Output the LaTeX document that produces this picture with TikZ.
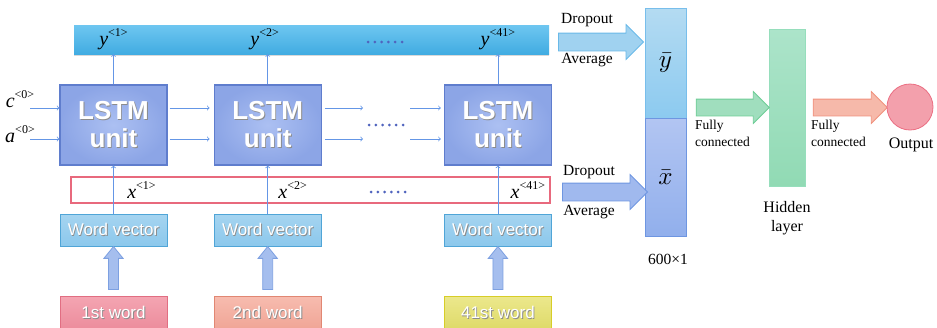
\documentclass[tikz,border=0pt]{standalone}
\usepackage{xcolor}
\usepackage{graphicx}
\usepackage{fontspec}
\setmainfont{Liberation Serif}
\setsansfont{Liberation Sans}
\usepackage{tikz}
\usetikzlibrary{shapes.arrows, arrows, positioning, calc, shadows}
\definecolor{lstmedge}{RGB}{95, 125, 205}
\definecolor{lstminner}{RGB}{172, 192, 242}
\definecolor{lstmouter}{RGB}{140, 165, 230}
\definecolor{ybartop}{RGB}{110, 198, 240}
\definecolor{ybarbot}{RGB}{65, 172, 226}
\definecolor{wvedge}{RGB}{80, 165, 215}
\definecolor{wvtop}{RGB}{165, 212, 240}
\definecolor{wvbot}{RGB}{140, 200, 236}
\definecolor{thinblue}{RGB}{100, 150, 230}
\definecolor{xbarred}{RGB}{232, 105, 125}
\definecolor{dotblue}{RGB}{80, 100, 190}
\definecolor{oneedge}{RGB}{225, 110, 130}
\definecolor{onetop}{RGB}{244, 165, 178}
\definecolor{onebot}{RGB}{236, 140, 156}
\definecolor{twoedge}{RGB}{225, 135, 115}
\definecolor{twotop}{RGB}{247, 188, 175}
\definecolor{twobot}{RGB}{240, 165, 150}
\definecolor{lastedge}{RGB}{215, 205, 40}
\definecolor{lasttop}{RGB}{236, 232, 140}
\definecolor{lastbot}{RGB}{222, 218, 105}
\definecolor{vupedge}{RGB}{125, 160, 225}
\definecolor{vupfill}{RGB}{165, 190, 238}
\definecolor{dropyedge}{RGB}{105, 185, 232}
\definecolor{dropyfill}{RGB}{160, 210, 240}
\definecolor{dropxedge}{RGB}{110, 150, 225}
\definecolor{dropxfill}{RGB}{160, 185, 238}
\definecolor{fcgreenedge}{RGB}{110, 205, 150}
\definecolor{fcgreenfill}{RGB}{160, 222, 190}
\definecolor{fcrededge}{RGB}{240, 145, 125}
\definecolor{fcredfill}{RGB}{246, 185, 170}
\definecolor{colyedge}{RGB}{120, 190, 235}
\definecolor{colytop}{RGB}{180, 219, 242}
\definecolor{colybot}{RGB}{140, 202, 240}
\definecolor{colxedge}{RGB}{110, 150, 225}
\definecolor{colxtop}{RGB}{178, 197, 242}
\definecolor{colxbot}{RGB}{145, 175, 236}
\definecolor{hidedge}{RGB}{150, 222, 188}
\definecolor{hidtop}{RGB}{172, 228, 202}
\definecolor{hidbot}{RGB}{145, 218, 180}
\definecolor{outedge}{RGB}{235, 110, 130}
\definecolor{outfill}{RGB}{243, 160, 172}

\newcommand{\whitetext}[1]{\leavevmode\rlap{\hspace{0.9pt}\raisebox{-1.2pt}{\textcolor{black!45}{#1}}}\textcolor{white}{#1}}
\newcommand{\seqlab}[2]{\textit{#1}\raisebox{0.45em}{\fontsize{12}{12}\selectfont <#2>}}
\newcommand{\meanlab}[1]{\scalebox{2.5}{$\bar{#1}$}}

\begin{document}
\begin{tikzpicture}[x=1pt, y=-1pt,
    lstmbox/.style={draw=lstmedge, line width=1.2pt, inner color=lstminner, outer color=lstmouter, minimum width=107pt, minimum height=80pt, inner sep=0pt, align=center, font=\sffamily\bfseries\fontsize{26}{28}\selectfont},
    vecbox/.style={draw=wvedge, line width=1pt, top color=wvtop, bottom color=wvbot, minimum width=107pt, minimum height=32pt, inner sep=0pt, font=\sffamily\fontsize{17}{20}\selectfont},
    wordbox/.style={vecbox, draw=#1edge, top color=#1top, bottom color=#1bot, minimum height=33pt},
    thinarrow/.style={->, draw=thinblue, line width=0.8pt},
    fatarrow/.style={single arrow, draw=#1edge, fill=#1fill, line width=0.8pt, inner sep=0pt, inner ysep=8.5pt, single arrow tip angle=90, single arrow head extend=8.5pt},
    colbox/.style={draw=#1edge, line width=0.8pt, top color=#1top, bottom color=#1bot, minimum width=41pt, inner sep=0pt},
    seqtext/.style={font=\fontsize{20}{22}\selectfont, inner sep=0pt},
    sidetext/.style={font=\fontsize{15.5}{19}\selectfont, inner sep=0pt, align=center},
    fctext/.style={font=\fontsize{13.5}{17}\selectfont, inner sep=0pt, align=left}
  ]
    \useasboundingbox (0,0) rectangle (937,327);

    % recurrent chain
    \node[lstmbox] (lstm1) at (113.5,125) {\whitetext{LSTM}\\\whitetext{unit}};
    \node[lstmbox, right=46pt of lstm1] (lstm2) {\whitetext{LSTM}\\\whitetext{unit}};
    \node[lstmbox, right=122pt of lstm2] (lstm3) {\whitetext{LSTM}\\\whitetext{unit}};

    \node[vecbox, below=48pt of lstm1] (wv1) {\whitetext{Word vector}};
    \node[vecbox, below=48pt of lstm2] (wv2) {\whitetext{Word vector}};
    \node[vecbox, below=48pt of lstm3] (wv3) {\whitetext{Word vector}};

    \node[wordbox=one, below=49pt of wv1] (word1) {\whitetext{1st word}};
    \node[wordbox=two, below=49pt of wv2] (word2) {\whitetext{2nd word}};
    \node[wordbox=last, below=49pt of wv3] (word3) {\whitetext{41st word}};

    \node[top color=ybartop, bottom color=ybarbot, minimum width=475pt, minimum height=29pt, inner sep=0pt, drop shadow={shadow xshift=0pt, shadow yshift=-2pt, opacity=0.3}] (ybar) at (311.5,39.5) {};
    \node[draw=xbarred, line width=1.3pt, fill=white, minimum width=479pt, minimum height=26pt, inner sep=0pt] (xbar) at (310.5,190) {};

    \node[seqtext] (ylab1) at (lstm1 |- ybar) {\seqlab{y}{1}};
    \node[seqtext] (ylab2) at ([xshift=-3pt]lstm2 |- ybar) {\seqlab{y}{2}};
    \node[seqtext] (ylab3) at (lstm3 |- ybar) {\seqlab{y}{41}};
    \node[seqtext] (xlab1) at ([xshift=28pt]lstm1 |- xbar) {\seqlab{x}{1}};
    \node[seqtext] (xlab2) at ([xshift=25pt]lstm2 |- xbar) {\seqlab{x}{2}};
    \node[seqtext] (xlab3) at ([xshift=30pt]lstm3 |- xbar) {\seqlab{x}{41}};
    \node[seqtext] (clab) at (20,99) {\seqlab{c}{0}};
    \node[seqtext] (alab) at (20,134) {\seqlab{a}{0}};

    % dots
    \coordinate (dotsy) at (385,42);
    \coordinate (dotsmid) at (386,125);
    \coordinate (dotsx) at (388,192);
    \foreach \c in {dotsy, dotsmid, dotsx}
      \foreach \i in {0,...,5}
        \fill[dotblue] ($(\c)+(\i*6.8-17,0)$) circle (1.5pt);

    % thin connectors
    \coordinate (cin) at (30,108);
    \coordinate (ain) at (30,139);
    \draw[thinarrow] (cin) -- (cin -| lstm1.west);
    \draw[thinarrow] (ain) -- (ain -| lstm1.west);
    \draw[thinarrow] ($(lstm1.east)+(2,-17)$) -- ($(lstm2.west)+(-4,-17)$);
    \draw[thinarrow] ($(lstm1.east)+(2,14)$) -- ($(lstm2.west)+(-4,14)$);
    \draw[thinarrow] ($(lstm2.east)+(3,-17)$) -- ($(dotsmid)+(-23,-17)$);
    \draw[thinarrow] ($(lstm2.east)+(3,14)$) -- ($(dotsmid)+(-23,14)$);
    \draw[thinarrow] ($(dotsmid)+(24,-17)$) -- ($(lstm3.west)+(-3,-17)$);
    \draw[thinarrow] ($(dotsmid)+(24,14)$) -- ($(lstm3.west)+(-3,14)$);
    \foreach \k in {1,2,3} {
      \draw[thinarrow] (lstm\k.north) -- (lstm\k.north |- ybar.south);
      \draw[thinarrow] (wv\k.north) -- (lstm\k.south);
      \node[fatarrow=vup, shape border rotate=90, minimum height=43pt, inner sep=4.6pt, single arrow head extend=4.6pt, single arrow tip angle=78] (up\k) at ($(word\k.north)!0.5!(wv\k.south)$) {};
    }

    % pooling and classifier
    \node[colbox=coly, minimum height=110pt] (coly) at (665.5,63) {\meanlab{y}};
    \node[colbox=colx, minimum height=118pt, below=0pt of coly] (colx) {\meanlab{x}};
    \node[fatarrow=dropy, minimum height=85pt] (dropy) at (596.5,42) {};
    \node[fatarrow=dropx, minimum height=85pt] (dropx) at (600.5,192) {};
    \node[sidetext] (dropytop) at (587,20) {Dropout};
    \node[sidetext] (dropybot) at (587,60) {Average};
    \node[sidetext] (dropxtop) at (589,172) {Dropout};
    \node[sidetext] (dropxbot) at (589,212) {Average};
    \node[sidetext] (size) at (668,259) {600×1};

    \node[draw=hidedge, line width=0.8pt, top color=hidtop, bottom color=hidbot, minimum width=36pt, minimum height=157pt, inner sep=0pt] (hidden) at (787,107.5) {};
    \node[sidetext, font=\fontsize{16}{19}\selectfont] (hidlab) at (787,218.5) {Hidden\\layer};
    \node[fatarrow=fcgreen, minimum height=73pt, inner ysep=8pt, single arrow head extend=7.5pt] (fc1) at (728.5,107.5) {};
    \node[fatarrow=fcred, minimum height=74pt, inner ysep=8pt, single arrow head extend=7.5pt] (fc2) at (846,107.5) {};
    \node[fctext, anchor=west] (fc1lab) at (695,133) {Fully\\connected};
    \node[fctext, anchor=west] (fc2lab) at (811,133) {Fully\\connected};

    \node[circle, draw=outedge, line width=0.8pt, fill=outfill, minimum size=46pt, inner sep=0pt] (out) at (910,107) {};
    \node[sidetext, font=\fontsize{16}{19}\selectfont] (outlab) at (911,145) {Output};
\end{tikzpicture}
\end{document}
